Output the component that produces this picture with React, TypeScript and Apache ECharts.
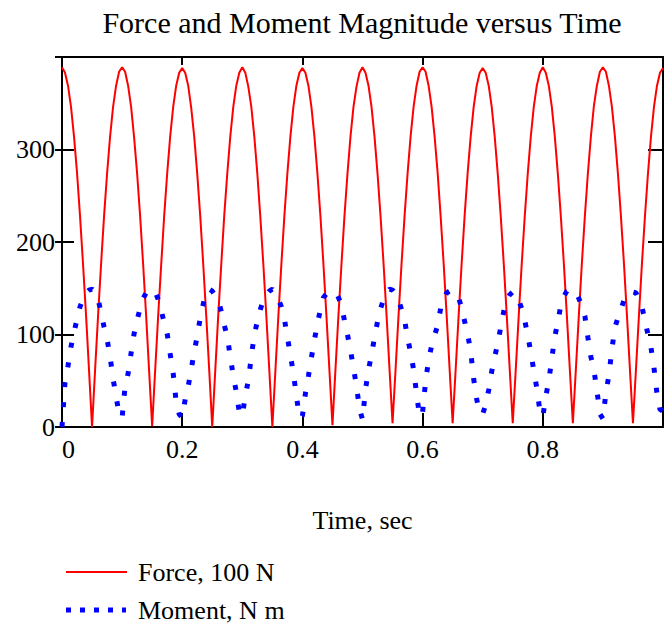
import React, { useEffect, useRef } from "react";
import * as echarts from "echarts";

// Sampling step of both curves (seconds)
const DT = 0.005;

// Force magnitude (units of 100 N), one array per 0.1 s cycle (20 samples each)
const force0 = [389, 383, 369, 346, 314, 275, 228, 176, 121, 61, 0, 61, 120, 176, 228, 274, 314, 346, 369, 384];
const force1 = [389, 384, 369, 346, 313, 274, 228, 176, 120, 60, 1, 61, 120, 175, 228, 274, 314, 346, 369, 383];
const force2 = [388, 383, 369, 345, 314, 274, 228, 176, 120, 61, 0, 61, 121, 176, 229, 274, 314, 346, 369, 383];
const force3 = [389, 383, 368, 346, 314, 274, 227, 176, 120, 61, 0, 60, 120, 176, 228, 274, 314, 346, 369, 383];
const force4 = [388, 383, 369, 346, 314, 274, 228, 176, 120, 61, 2, 62, 121, 176, 228, 274, 314, 346, 368, 383];
const force5 = [389, 383, 369, 346, 314, 274, 228, 177, 121, 62, 4, 62, 121, 177, 228, 274, 314, 346, 369, 384];
const force6 = [389, 384, 369, 346, 314, 275, 228, 177, 121, 62, 4, 62, 121, 177, 229, 275, 314, 346, 369, 383];
const force7 = [388, 383, 369, 346, 314, 274, 228, 177, 121, 62, 4, 62, 121, 177, 228, 274, 314, 346, 369, 383];
const force8 = [389, 383, 369, 346, 314, 274, 228, 177, 121, 62, 4, 62, 121, 177, 228, 274, 314, 347, 369, 384];
const force9 = [389, 384, 369, 346, 314, 274, 228, 177, 121, 62, 4, 62, 121, 177, 228, 274, 314, 346, 369, 383];
const forceEnd = [388];

// Moment magnitude (N m), one array per 0.1 s cycle (20 samples each)
const moment0 = [0, 48, 66, 87, 102, 117, 130, 139, 145, 148, 149, 146, 138, 124, 108, 95, 76, 52, 33, 14];
const moment1 = [10, 44, 58, 80, 101, 116, 128, 139, 145, 148, 149, 146, 138, 126, 113, 101, 79, 58, 27, 14];
const moment2 = [10, 30, 44, 62, 82, 98, 118, 133, 147, 149, 147, 142, 137, 125, 110, 98, 76, 55, 38, 16];
const moment3 = [12, 34, 50, 76, 100, 114, 127, 137, 143, 147, 149, 145, 138, 130, 117, 97, 78, 58, 34, 10];
const moment4 = [12, 36, 55, 75, 94, 112, 127, 140, 144, 146, 146, 146, 140, 132, 115, 100, 83, 64, 44, 20];
const moment5 = [8, 41, 62, 78, 97, 114, 128, 138, 145, 149, 148, 144, 137, 127, 116, 96, 81, 62, 36, 11];
const moment6 = [16, 50, 72, 88, 99, 110, 128, 138, 145, 147, 147, 146, 140, 128, 114, 100, 82, 52, 30, 15];
const moment7 = [14, 24, 40, 60, 76, 90, 108, 125, 138, 143, 146, 145, 137, 128, 115, 99, 81, 61, 42, 18];
const moment8 = [11, 33, 50, 74, 98, 113, 132, 141, 147, 149, 148, 145, 139, 130, 120, 97, 76, 62, 40, 14];
const moment9 = [9, 37, 56, 84, 108, 118, 127, 137, 144, 146, 146, 145, 138, 130, 115, 100, 86, 64, 36, 19];
const momentEnd = [17];

const TITLE = "Force and Moment Magnitude versus Time";
const X_NAME = "Time, sec";
const SERIES_NAMES = ["Force, 100 N", "Moment, N m"];

const forceValues = [
  ...force0, ...force1, ...force2, ...force3, ...force4,
  ...force5, ...force6, ...force7, ...force8, ...force9, ...forceEnd,
];
const momentValues = [
  ...moment0, ...moment1, ...moment2, ...moment3, ...moment4,
  ...moment5, ...moment6, ...moment7, ...moment8, ...moment9, ...momentEnd,
];

const toPairs = (vals: number[]) =>
  vals.map((v, i) => [Number((i * DT).toFixed(3)), v]);

const FONT = "Liberation Serif";
const RED = "#ff0000";
const BLUE = "#0000ff";

export default function App() {
  const ref = useRef<HTMLDivElement>(null);

  useEffect(() => {
    if (!ref.current) return;
    const chart = echarts.init(ref.current, undefined, { renderer: "svg" });
    const axisColor = "#000";
    const baseX = {
      type: "value" as const,
      min: 0,
      max: 1,
      interval: 0.2,
      splitLine: { show: false },
      axisLine: { show: true, onZero: false, lineStyle: { color: axisColor, width: 2 } },
    };
    const baseY = {
      type: "value" as const,
      min: 0,
      max: 400,
      interval: 100,
      splitLine: { show: false },
      axisLine: { show: true, onZero: false, lineStyle: { color: axisColor, width: 2 } },
    };
    const legendText = (y: number, name: string) => ({
      type: "text",
      x: 138,
      y,
      silent: true,
      style: {
        text: name,
        fontFamily: FONT,
        fontSize: 26,
        fill: "#000",
        verticalAlign: "middle",
        align: "left",
      },
    });
    // dashed legend sample for the moment curve: 5 short dashes
    const dashStarts = [0, 14, 28, 42, 56];
    const momentSample = dashStarts.map((dx, i) => ({
      type: "rect",
      silent: true,
      shape: { x: 66 + dx, y: 607.5, width: i === dashStarts.length - 1 ? 4 : 5, height: 5 },
      style: { fill: BLUE },
    }));
    chart.setOption({
      animation: false,
      backgroundColor: "#fff",
      title: {
        text: TITLE,
        left: 362,
        textAlign: "center",
        top: 7,
        padding: 0,
        textStyle: { fontFamily: FONT, fontSize: 30, fontWeight: "normal", color: "#000" },
      },
      legend: { show: false },
      graphic: [
        {
          type: "line",
          silent: true,
          shape: { x1: 66, y1: 572, x2: 127, y2: 572 },
          style: { stroke: RED, lineWidth: 2 },
        },
        legendText(572, SERIES_NAMES[0]),
        ...momentSample,
        legendText(610, SERIES_NAMES[1]),
      ],
      grid: { left: 62, right: 2, top: 57, bottom: 202, containLabel: false },
      xAxis: [
        {
          ...baseX,
          position: "bottom",
          name: X_NAME,
          nameLocation: "middle",
          nameGap: 80,
          nameTextStyle: { fontFamily: FONT, fontSize: 26, color: "#000" },
          axisTick: { show: true, inside: true, length: 14, lineStyle: { color: axisColor, width: 2 } },
          axisLabel: {
            show: true,
            margin: 9,
            showMaxLabel: false,
            alignMinLabel: "left",
            fontFamily: FONT,
            fontSize: 26,
            color: "#000",
          },
        },
        {
          ...baseX,
          position: "top",
          axisTick: { show: true, inside: true, length: 8, lineStyle: { color: axisColor, width: 2 } },
          axisLabel: { show: false },
        },
      ],
      yAxis: [
        {
          ...baseY,
          position: "left",
          axisTick: { show: true, inside: true, length: 12, lineStyle: { color: axisColor, width: 2 } },
          axisLabel: {
            show: true,
            margin: 7,
            showMaxLabel: false,
            fontFamily: FONT,
            fontSize: 26,
            color: "#000",
          },
        },
        {
          ...baseY,
          position: "right",
          axisTick: { show: true, inside: true, length: 15, lineStyle: { color: axisColor, width: 2 } },
          axisLabel: { show: false },
        },
        {
          ...baseY,
          position: "left",
          axisLine: { show: false },
          axisTick: { show: true, inside: false, length: 7, lineStyle: { color: axisColor, width: 2 } },
          axisLabel: { show: false },
        },
      ],
      series: [
        {
          name: SERIES_NAMES[0],
          type: "line",
          xAxisIndex: 0,
          yAxisIndex: 0,
          data: toPairs(forceValues),
          symbol: "none",
          showSymbol: false,
          lineStyle: { color: RED, width: 2 },
          itemStyle: { color: RED },
        },
        {
          name: SERIES_NAMES[1],
          type: "line",
          xAxisIndex: 0,
          yAxisIndex: 0,
          data: toPairs(momentValues),
          symbol: "none",
          showSymbol: false,
          lineStyle: { color: BLUE, width: 5, type: [5, 15], cap: "butt" },
          itemStyle: { color: BLUE },
        },
      ],
    });
    return () => chart.dispose();
  }, []);

  return (
    <div
      ref={ref}
      style={{ position: "absolute", left: 0, top: 0, width: 665, height: 629 }}
    />
  );
}
